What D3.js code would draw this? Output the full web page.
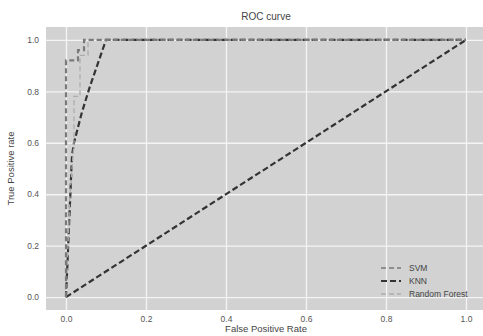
<!DOCTYPE html>
<html>
<head>
<meta charset="utf-8">
<title>ROC curve</title>
<script src="https://cdnjs.cloudflare.com/ajax/libs/d3/7.8.5/d3.min.js"></script>
<style>
    body { margin: 0; background: #fff; }
    text { font-family: "Liberation Sans", Arial, sans-serif; }
</style>
</head>
<body>
<div id="chart"></div>
<script>
// curve points, [fpr, tpr]
var svmPoints = [[0, 0], [0, 0.92], [0.03, 0.92], [0.03, 0.96], [0.045, 0.96], [0.045, 1.0], [1, 1]];
var knnPoints = [[0, 0], [0.015, 0.55], [0.02, 0.6], [0.04, 0.72], [0.06, 0.82], [0.1, 1.0], [1, 1]];
var rfPoints = [[0, 0], [0.01, 0.4], [0.02, 0.6], [0.02, 0.78], [0.035, 0.78], [0.035, 0.94], [0.055, 0.94], [0.055, 1.0], [1, 1]];
var diagPoints = [[0, 0], [1, 1]];
var seriesNames = ["SVM", "KNN", "Random Forest"];
var tickValues = [0, 0.2, 0.4, 0.6, 0.8, 1.0];

var w = 483, h = 336;
// note: "top" is taken by window.top, so use plot* names
var plotLeft = 46, plotRight = 486, plotTop = 27, plotBottom = 310;

var svg = d3.select("#chart").append("svg")
    .attr("width", w)
    .attr("height", h);

var x = d3.scaleLinear().domain([-0.05, 1.05]).range([plotLeft, plotRight]);
var y = d3.scaleLinear().domain([-0.05, 1.05]).range([plotBottom, plotTop]);

// gray panel
svg.append("rect")
    .attr("x", plotLeft).attr("y", plotTop)
    .attr("width", plotRight - plotLeft).attr("height", plotBottom - plotTop)
    .attr("fill", "#d2d2d2");

// grid lines (white)
var xAxis = d3.axisBottom(x).tickValues(tickValues).tickFormat(d3.format(".1f"))
    .tickSize(-(plotBottom - plotTop)).tickPadding(6);
var yAxis = d3.axisLeft(y).tickValues(tickValues).tickFormat(d3.format(".1f"))
    .tickSize(-(plotRight - plotLeft)).tickPadding(7);

var gx = svg.append("g").attr("transform", "translate(0," + plotBottom + ")").call(xAxis);
var gy = svg.append("g").attr("transform", "translate(" + plotLeft + ",0)").call(yAxis);

[gx, gy].forEach(function (g) {
    g.select(".domain").remove();
    g.selectAll(".tick line").attr("stroke", "#f4f4f4").attr("stroke-width", 1.3);
    g.selectAll(".tick text").attr("fill", "#555").attr("font-size", 8.5);
});

var line = d3.line()
    .x(function (d) { return x(d[0]); })
    .y(function (d) { return y(d[1]); });

svg.append("clipPath").attr("id", "clip")
    .append("rect").attr("x", plotLeft).attr("y", plotTop)
    .attr("width", plotRight - plotLeft).attr("height", plotBottom - plotTop);

var plot = svg.append("g").attr("clip-path", "url(#clip)");

var styles = {
    "SVM": { stroke: "#7a7a7a", width: 1.6, dash: "5,3" },
    "KNN": { stroke: "#333", width: 2.2, dash: "6,3" },
    "Random Forest": { stroke: "#acacac", width: 1.3, dash: "5,3" }
};

// chance line
plot.append("path")
    .attr("d", line(diagPoints))
    .attr("fill", "none")
    .attr("stroke", "#333")
    .attr("stroke-width", 2.2)
    .attr("stroke-dasharray", "6,3");

// KNN underneath so the gray curves show along the top edge
plot.append("path")
    .attr("d", line(knnPoints))
    .attr("fill", "none")
    .attr("stroke", styles["KNN"].stroke)
    .attr("stroke-width", styles["KNN"].width)
    .attr("stroke-dasharray", styles["KNN"].dash);

plot.append("path")
    .attr("d", line(rfPoints))
    .attr("fill", "none")
    .attr("stroke", styles["Random Forest"].stroke)
    .attr("stroke-width", styles["Random Forest"].width)
    .attr("stroke-dasharray", styles["Random Forest"].dash);

plot.append("path")
    .attr("d", line(svmPoints))
    .attr("fill", "none")
    .attr("stroke", styles["SVM"].stroke)
    .attr("stroke-width", 2.2)
    .attr("stroke-dasharray", styles["SVM"].dash);

// legend, lower right
var legend = svg.append("g").attr("transform", "translate(381,268)");
seriesNames.forEach(function (name, i) {
    var s = styles[name];
    legend.append("line")
        .attr("x1", 0).attr("x2", 20)
        .attr("y1", i * 13).attr("y2", i * 13)
        .attr("stroke", s.stroke)
        .attr("stroke-width", s.width)
        .attr("stroke-dasharray", s.dash);
    legend.append("text")
        .attr("x", 28).attr("y", i * 13 + 3)
        .attr("font-size", 8.5)
        .attr("fill", "#444")
        .text(name);
});

// title and axis labels
svg.append("text")
    .attr("x", (plotLeft + plotRight) / 2).attr("y", 20)
    .attr("text-anchor", "middle")
    .attr("font-size", 10)
    .attr("fill", "#444")
    .text("ROC curve");

svg.append("text")
    .attr("x", (plotLeft + plotRight) / 2).attr("y", 332)
    .attr("text-anchor", "middle")
    .attr("font-size", 9.5)
    .attr("fill", "#444")
    .text("False Positive Rate");

svg.append("text")
    .attr("transform", "translate(14," + ((plotTop + plotBottom) / 2) + ") rotate(-90)")
    .attr("text-anchor", "middle")
    .attr("font-size", 9.5)
    .attr("fill", "#444")
    .text("True Positive rate");
</script>
</body>
</html>
